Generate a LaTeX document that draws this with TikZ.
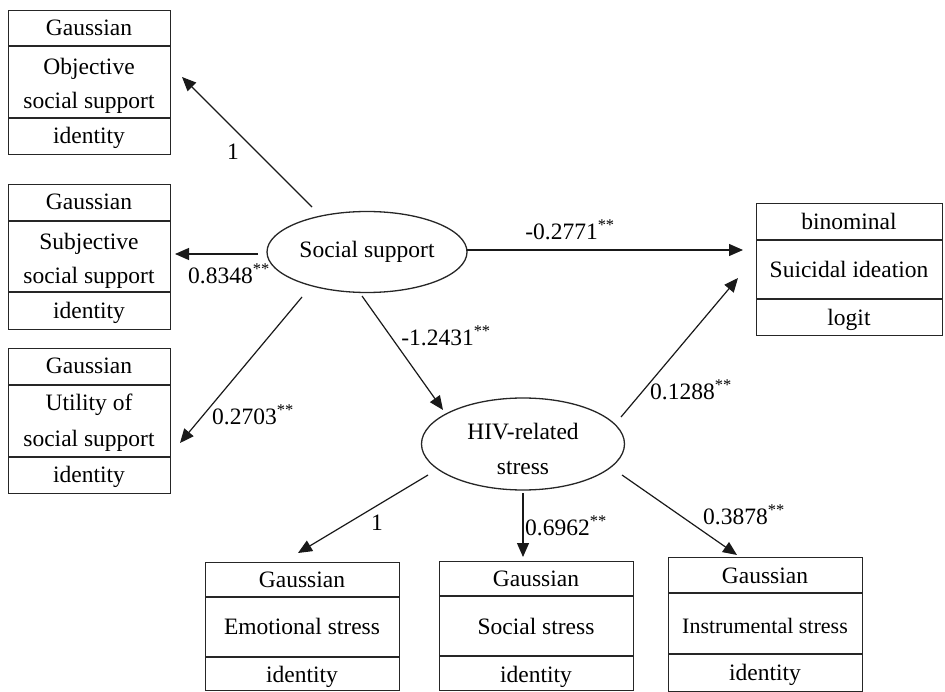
\documentclass[tikz,border=0pt]{standalone}
\usepackage{fontspec}
\setmainfont{Liberation Serif}
\usetikzlibrary{shapes.geometric,arrows.meta}
\begin{document}
\begin{tikzpicture}[x=1pt,y=-1pt,
  every node/.style={font=\fontsize{23.5}{35}\selectfont},
  txt/.style={inner sep=0pt,text height=15.5pt,text depth=0pt},
  lbl/.style={inner sep=0pt,text height=15.5pt,text depth=0pt},
  boxline/.style={draw=black!85,line width=1.3pt},
  latent/.style={draw=black!85,line width=1.3pt,ellipse,inner sep=0pt,align=center},
  path/.style={draw=black!90,line width=1.2pt,-{Triangle[length=14pt,width=12pt]}},
  sup/.style={}]
\useasboundingbox (0,0) rectangle (945,692);

% ---------- observed boxes ----------
% Objective social support
\node[boxline,rectangle,anchor=north west,minimum width=162pt,minimum height=144pt,inner sep=0pt] (b1) at (8,10) {};
\draw[boxline] (8,46) -- (170,46) (8,118) -- (170,118);
\node[txt] (b1a) at (89,28) {Gaussian};
\node[txt] (b1b) at (89,67) {Objective};
\node[txt] (b1c) at (89,101) {social support};
\node[txt] (b1d) at (89,136) {identity};

% Subjective social support
\node[boxline,rectangle,anchor=north west,minimum width=162pt,minimum height=145pt,inner sep=0pt] (b2) at (8,184) {};
\draw[boxline] (8,221) -- (170,221) (8,292) -- (170,292);
\node[txt] (b2a) at (89,202) {Gaussian};
\node[txt] (b2b) at (89,242) {Subjective};
\node[txt] (b2c) at (89,276) {social support};
\node[txt] (b2d) at (89,311) {identity};

% Utility of social support
\node[boxline,rectangle,anchor=north west,minimum width=162pt,minimum height=145pt,inner sep=0pt] (b3) at (8,348) {};
\draw[boxline] (8,385) -- (170,385) (8,457) -- (170,457);
\node[txt] (b3a) at (89,366) {Gaussian};
\node[txt] (b3b) at (89,403) {Utility of};
\node[txt] (b3c) at (89,439) {social support};
\node[txt] (b3d) at (89,475) {identity};

% Suicidal ideation
\node[boxline,rectangle,anchor=north west,minimum width=186pt,minimum height=132pt,inner sep=0pt] (b4) at (756,203) {};
\draw[boxline] (756,240) -- (942,240) (756,299) -- (942,299);
\node[txt] (b4a) at (849,222) {binominal};
\node[txt] (b4b) at (849,270) {Suicidal ideation};
\node[txt] (b4c) at (849,318) {logit};

% Emotional stress
\node[boxline,rectangle,anchor=north west,minimum width=194pt,minimum height=128pt,inner sep=0pt] (b5) at (205,562) {};
\draw[boxline] (205,597) -- (399,597) (205,657) -- (399,657);
\node[txt] (b5a) at (302,580) {Gaussian};
\node[txt] (b5b) at (302,627) {Emotional stress};
\node[txt] (b5c) at (302,675) {identity};

% Social stress
\node[boxline,rectangle,anchor=north west,minimum width=194pt,minimum height=129pt,inner sep=0pt] (b6) at (439,561) {};
\draw[boxline] (439,596) -- (633,596) (439,656) -- (633,656);
\node[txt] (b6a) at (536,579) {Gaussian};
\node[txt] (b6b) at (536,627) {Social stress};
\node[txt] (b6c) at (536,675) {identity};

% Instrumental stress
\node[boxline,rectangle,anchor=north west,minimum width=194pt,minimum height=134pt,inner sep=0pt] (b7) at (668,557) {};
\draw[boxline] (668,593) -- (862,593) (668,654) -- (862,654);
\node[txt] (b7a) at (765,576) {Gaussian};
\node[txt,font=\fontsize{22}{30}\selectfont] (b7b) at (765,626) {Instrumental stress};
\node[txt] (b7c) at (765,673) {identity};

% ---------- latent ellipses ----------
\node[latent,minimum width=200pt,minimum height=81pt] (ss) at (367,252) {Social support};
\node[latent,minimum width=203pt,minimum height=92pt] (hiv) at (523,444) {};
\node[txt] (hivA) at (523,432) {HIV-related};
\node[txt] (hivB) at (523,467) {stress};

% ---------- connector endpoints ----------
\coordinate (s1) at (312,207); \coordinate (e1) at (182,77);
\coordinate (s2) at (258,254); \coordinate (e2) at (175,254);
\coordinate (s3) at (302,297); \coordinate (e3) at (180,443);
\coordinate (s4) at (467,250); \coordinate (e4) at (743,250);
\coordinate (s5) at (362,296); \coordinate (e5) at (443,410);
\coordinate (s6) at (621,417); \coordinate (e6) at (738,278);
\coordinate (s7) at (428,475); \coordinate (e7) at (298,553);
\coordinate (s8) at (523,493); \coordinate (e8) at (523,557);
\coordinate (s9) at (622,475); \coordinate (e9) at (737,555);

\draw[path] (s1) -- (e1);
\draw[path] (s2) -- (e2);
\draw[path] (s3) -- (e3);
\draw[path] (s4) -- (e4);
\draw[path] (s5) -- (e5);
\draw[path] (s6) -- (e6);
\draw[path] (s7) -- (e7);
\draw[path] (s8) -- (e8);
\draw[path] (s9) -- (e9);

% ---------- labels ----------
\node[lbl] (l1) at (233,152) {1};
\node[lbl] (l2) at (229,276) {0.8348\textsuperscript{**}};
\node[lbl] (l3) at (253,417) {0.2703\textsuperscript{**}};
\node[lbl] (l4) at (570,232) {-0.2771\textsuperscript{**}};
\node[lbl] (l5) at (446,338) {-1.2431\textsuperscript{**}};
\node[lbl] (l6) at (691,392) {0.1288\textsuperscript{**}};
\node[lbl] (l7) at (377,523) {1};
\node[lbl] (l8) at (566,528) {0.6962\textsuperscript{**}};
\node[lbl] (l9) at (744,517) {0.3878\textsuperscript{**}};
\end{tikzpicture}
\end{document}
